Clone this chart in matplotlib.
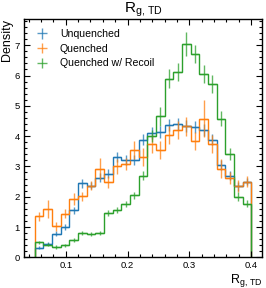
import numpy as np
import matplotlib
matplotlib.use("Agg")
import matplotlib.pyplot as plt
from matplotlib.ticker import AutoMinorLocator, MultipleLocator

# ---- data ----
edges = np.linspace(0.05, 0.40, 26)
labels = ["Unquenched", "Quenched", "Quenched w/ Recoil"]

unquenched = [0.32, 0.45, 0.78, 1.00, 1.55, 2.45, 2.37, 2.63, 2.76, 3.31, 3.22, 3.22, 3.88,
              4.11, 4.15, 4.36, 4.39, 4.32, 4.30, 4.21, 3.88, 3.04, 2.70, 2.34, 2.50]
unquenched_err = [0.05, 0.06, 0.08, 0.10, 0.12, 0.15, 0.12, 0.14, 0.15, 0.18, 0.16, 0.16, 0.18,
                  0.20, 0.20, 0.20, 0.20, 0.20, 0.20, 0.20, 0.18, 0.16, 0.15, 0.14, 0.12]

quenched = [1.35, 1.60, 1.02, 1.44, 1.92, 2.02, 2.37, 2.93, 2.50, 3.00, 3.07, 3.55, 3.31,
            3.73, 3.55, 4.05, 4.21, 4.32, 3.84, 4.58, 3.75, 2.93, 2.63, 2.34, 2.50]
quenched_err = [0.15, 0.30, 0.15, 0.15, 0.20, 0.15, 0.15, 0.35, 0.20, 0.25, 0.20, 0.30, 0.30,
                0.30, 0.30, 0.30, 0.30, 0.30, 0.30, 0.60, 0.30, 0.30, 0.20, 0.20, 0.18]

recoil = [0.50, 0.42, 0.34, 0.40, 0.57, 0.80, 0.77, 0.80, 1.45, 1.55, 1.75, 2.05, 2.70,
          4.00, 4.65, 5.90, 6.12, 7.03, 6.72, 6.05, 5.72, 4.58, 3.42, 2.00, 1.77]
recoil_err = [0.05, 0.05, 0.05, 0.05, 0.06, 0.07, 0.07, 0.07, 0.10, 0.10, 0.10, 0.12, 0.15,
              0.20, 0.30, 0.30, 0.30, 0.40, 0.30, 0.30, 0.30, 0.25, 0.20, 0.15, 0.12]

colors = ["#1f77b4", "#ff7f0e", "#2ca02c"]

plt.rcParams['font.family'] = ['Liberation Sans', 'DejaVu Sans']
plt.rcParams['mathtext.fontset'] = 'custom'
plt.rcParams['mathtext.rm'] = 'Liberation Sans'
plt.rcParams['mathtext.it'] = 'Liberation Sans'

fig = plt.figure(figsize=(2.66, 2.88), dpi=100)
ax = fig.add_axes([0.0902, 0.1066, 0.8948, 0.8257])

centers = 0.5 * (edges[1:] + edges[:-1])
halfw = 0.5 * np.diff(edges)
handles = []
for vals, errs, c, lab in zip([unquenched, quenched, recoil],
                              [unquenched_err, quenched_err, recoil_err], colors, labels):
    ax.stairs(vals, edges, baseline=0, color=c, lw=1.0)
    h = ax.errorbar(centers, vals, yerr=errs, xerr=halfw, fmt='none', ecolor=c,
                    elinewidth=1.0, alpha=0.75, label=lab)
    handles.append(h)

ax.set_xlim(0.0325, 0.4175)
ax.set_ylim(0, 7.85)
ax.xaxis.set_major_locator(MultipleLocator(0.1))
ax.xaxis.set_minor_locator(AutoMinorLocator(5))
ax.yaxis.set_major_locator(MultipleLocator(1))
ax.yaxis.set_minor_locator(AutoMinorLocator(5))
ax.tick_params(which='both', direction='in', top=True, right=True, labelsize=6.8, width=0.8)
ax.tick_params(which='major', length=4.5, pad=3)
ax.tick_params(which='minor', length=2.2)
for s in ax.spines.values():
    s.set_linewidth(1.0)

ax.set_title(r"$\mathregular{R_{g,\,TD}}$", fontsize=11, pad=3)
ax.set_xlabel(r"$\mathregular{R_{g,\,TD}}$", fontsize=9, loc='right', labelpad=1)
ax.set_ylabel("Density", fontsize=9, loc='top', labelpad=1)

ax.legend(handles=handles, labels=labels, loc='upper left', frameon=False, fontsize=7.6,
          handlelength=1.6, handletextpad=0.9, labelspacing=0.45)

fig.savefig("out.png", dpi=100)
